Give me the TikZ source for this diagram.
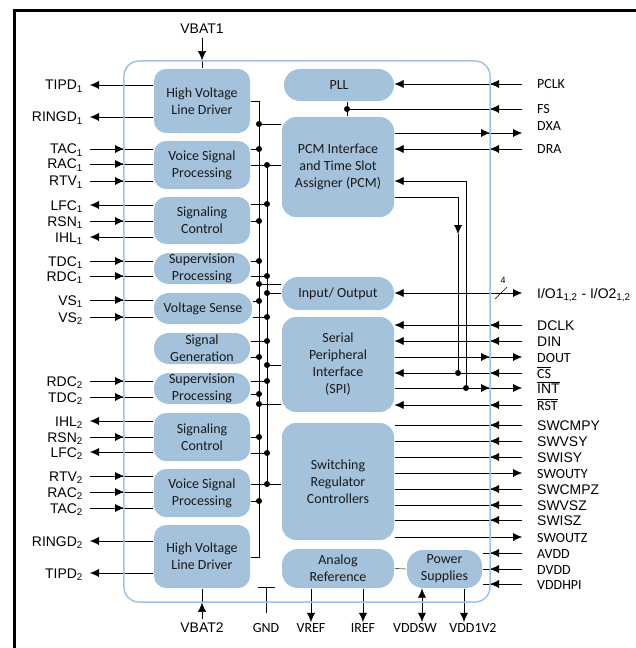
\documentclass[tikz,border=0pt]{standalone}
\usepackage{fontspec}
\setmainfont{Carlito}
\newfontfamily\arial{Liberation Sans}
\usetikzlibrary{arrows.meta,backgrounds,decorations.markings}

\definecolor{blkfill}{RGB}{164,194,220}
\definecolor{chipcol}{RGB}{157,195,230}
\newcommand{\lsub}[1]{\textsubscript{#1}}

\tikzset{
  blk/.style={rectangle, fill=blkfill, rounded corners=12bp, align=center, inner sep=0pt,
              minimum width=96bp, text=black!90, font=\fontsize{14}{17}\selectfont},
  rblk/.style={blk, minimum width=112bp, rounded corners=14bp},
  cal/.style={font=\fontsize{14}{16}\selectfont},
  ari/.style={font=\arial\fontsize{14}{16}\selectfont},
  llab/.style={ari, anchor=base east, inner sep=1bp, xshift=-6bp, yshift=-5bp},
  rlab/.style={anchor=base west, inner sep=1bp, xshift=14bp, yshift=-5bp},
  blab/.style={cal, inner sep=1bp},
  dot/.style={circle, fill, inner sep=0pt, minimum size=6bp},
  midin/.style={decoration={markings, mark=at position #1 with {\arrow{>}}}, postaction={decorate}},
  midrev/.style={decoration={markings, mark=at position #1 with {\arrowreversed{>}}}, postaction={decorate}},
  pinin/.style={midin=34bp},
  pinout/.style={<-},
  rin/.style={->, midin=32bp},
  rinx/.style={midin=32bp},
  rout/.style={<-, midrev=32bp},
  routx/.style={<-}
}

\begin{document}
\begin{tikzpicture}[x=1bp, y=-1bp, >={Latex[length=9bp,width=8bp]}, line width=1.2bp]
  \useasboundingbox (0,0) rectangle (636,648);
  \draw[line width=3bp] (14.5,648) -- (14.5,10.5) -- (636,10.5);

  % the device
  \node[draw=chipcol, line width=1.5bp, rounded corners=15bp, minimum width=366bp,
        minimum height=541bp, inner sep=0pt] (chip) at (307,331.5) {};

  % channel 1 / channel 2 blocks
  \node[blk, minimum height=64bp] (hv1) at (202,101) {High Voltage\\Line Driver};
  \node[blk, minimum height=48bp] (vsp1) at (202,165) {Voice Signal\\Processing};
  \node[blk, minimum height=47bp] (sc1) at (202,220.5) {Signaling\\Control};
  \node[blk, minimum height=31bp, rounded corners=15bp] (sp1) at (202,268.5) {Supervision\\Processing};
  \node[blk, minimum height=31bp, minimum width=98bp, rounded corners=15bp] (vs) at (203,308.5) {Voltage Sense};
  \node[blk, minimum height=31bp, rounded corners=15bp] (sg) at (202,348.5) {Signal\\Generation};
  \node[blk, minimum height=31bp, rounded corners=15bp] (sp2) at (202,388.5) {Supervision\\Processing};
  \node[blk, minimum height=48bp] (sc2) at (202,437) {Signaling\\Control};
  \node[blk, minimum height=48bp] (vsp2) at (202,493) {Voice Signal\\Processing};
  \node[blk, minimum height=63bp] (hv2) at (202,556.5) {High Voltage\\Line Driver};

  % shared blocks
  \node[rblk, minimum width=110bp, minimum height=32bp, rounded corners=16bp] (pll) at (339,85) {PLL};
  \node[rblk, minimum height=100bp] (pcm) at (338,167) {PCM Interface\\and Time Slot\\Assigner (PCM)};
  \node[rblk, minimum height=33bp, rounded corners=16bp] (io) at (338,293.5) {Input/ Output};
  \node[rblk, minimum height=95bp] (spi) at (338,364.5) {Serial\\Peripheral\\Interface\\(SPI)};
  \node[rblk, minimum height=117bp] (sw) at (338,481.5) {Switching\\Regulator\\Controllers};
  \node[rblk, minimum height=39bp, rounded corners=16bp] (ar) at (338,568.5) {Analog\\Reference};
  \node[blk, minimum width=75bp, minimum height=38bp, rounded corners=16bp] (ps) at (444.5,569) {Power\\Supplies};

  % outside labels
  \node[ari] (vbat1) at (202,29) {VBAT1};
  \node[ari] (vbat2) at (202,628) {VBAT2};
  \node[blab] (gnd) at (266,628) {GND};
  \node[blab] (vref) at (311,628) {VREF};
  \node[blab] (iref) at (363,628) {IREF};
  \node[blab] (vddsw) at (415,628) {VDDSW};
  \node[blab] (vdd1v2) at (473,628) {VDD1V2};

  \begin{pgfonlayer}{background}
    % supply pins
    \draw[->] (vbat1) -- (vbat1 |- chip.north);
    \draw (vbat1 |- chip.north) -- (hv1.north);
    \draw[->] (vbat2) -- (vbat2 |- chip.south);
    \draw (vbat2 |- chip.south) -- (hv2.south);
    \draw (258,587) -- (275,587) (266.5,587) -- (266.5,613);

    % line side pins
    \foreach \y/\lab/\s/\b in {85/TIPD\lsub{1}/pinout/hv1, 117/RINGD\lsub{1}/pinout/hv1,
        149/TAC\lsub{1}/pinin/vsp1, 164/RAC\lsub{1}/pinin/vsp1, 181/RTV\lsub{1}/pinin/vsp1,
        205/LFC\lsub{1}/pinout/sc1, 221/RSN\lsub{1}/pinin/sc1, 237/IHL\lsub{1}/pinout/sc1,
        261/TDC\lsub{1}/pinin/sp1, 276/RDC\lsub{1}/pinin/sp1,
        300/VS\lsub{1}/pinin/vs, 317/VS\lsub{2}/pinin/vs,
        381/RDC\lsub{2}/pinin/sp2, 397/TDC\lsub{2}/pinin/sp2,
        421/IHL\lsub{2}/pinout/sc2, 437/RSN\lsub{2}/pinin/sc2, 452/LFC\lsub{2}/pinout/sc2,
        476/RTV\lsub{2}/pinin/vsp2, 492/RAC\lsub{2}/pinin/vsp2, 508/TAC\lsub{2}/pinin/vsp2,
        541/RINGD\lsub{2}/pinout/hv2, 573/TIPD\lsub{2}/pinout/hv2}
    {
      \coordinate (l\y) at (90,\y);
      \node[llab] at (l\y) {\lab};
      \draw[\s] (l\y) -- (l\y -| \b.west);
    }

    % internal bus
    \draw (hv1.east) -| (259,557) -- (hv2.east |- 0,557);
    \draw (267,165) -- (267,484);
    \foreach \b/\y in {vsp1/149, sc1/221, sp1/261, vs/301, sg/357, sp2/394, sc2/437, vsp2/501}
      \draw (\b.east |- 0,\y) -- (259,\y) node[dot] {};
    \foreach \b/\y in {sc1/204, sp1/276, vs/317, sg/341, sp2/381, sc2/453}
      \draw (\b.east |- 0,\y) -- (267,\y) node[dot] {};
    \foreach \b/\y in {pcm/124, io/284, spi/404}
      \draw (259,\y) node[dot] {} -- (\b.west |- 0,\y);
    \foreach \b/\y in {io/293, spi/365}
      \draw (267,\y) node[dot] {} -- (\b.west |- 0,\y);
    \draw (vsp1.east |- 0,165) -- (pcm.west |- 0,165);
    \node[dot] at (267,165) {};
    \draw (vsp2.east |- 0,484) -- (sw.west |- 0,484);
    \node[dot] at (267,484) {};

    % host side pins
    \foreach \y/\lab/\f/\s/\b in {84/PCLK/cal/rin/pll, 149/DRA/cal/rin/pcm,
        325/DCLK/ari/rin/spi, 341/DIN/ari/rin/spi, 357/DOUT/cal/rout/spi,
        373/{$\overline{\mbox{CS}}$}/cal/rin/spi, 388/{$\overline{\mbox{INT}}$}/ari/rout/spi,
        405/{$\overline{\mbox{RST}}$}/cal/rin/spi,
        425/SWCMPY/ari/rinx/sw, 441/SWVSY/ari/rinx/sw, 457/SWISY/ari/rinx/sw,
        473/SWOUTY/cal/routx/sw, 489/SWCMPZ/ari/rinx/sw, 505/SWVSZ/ari/rinx/sw,
        520/SWISZ/ari/rinx/sw, 537/SWOUTZ/cal/routx/sw,
        553/AVDD/cal/rinx/ps, 569/DVDD/cal/rinx/ps, 584/VDDHPI/cal/rinx/ps}
    {
      \coordinate (r\y) at (522,\y);
      \node[rlab,\f] at (r\y) {\lab};
      \draw[\s] (r\y) -- (r\y -| \b.east);
    }
    \coordinate (rfs) at (522,109);
    \node[rlab,cal] at (rfs) {FS};
    \draw[rinx] (rfs) -- (347,109) node[dot] {};
    \draw (pll.south -| 347,0) -- (pcm.north -| 347,0);
    \coordinate (rdxa) at (522,133);
    \node[rlab,cal] at (522,126) {DXA};
    \draw[rout] (rdxa) -- (rdxa -| pcm.east);
    \coordinate (rio) at (522,293);
    \node[rlab,ari] at (rio) {I/O1\lsub{1,2} - I/O2\lsub{1,2}};
    \draw[<->] (io.east |- rio) -- (rio);
    \draw (495,299) -- (507,287);
    \node[font=\arial\fontsize{9}{9}\selectfont] at (503,280) {4};

    % PCM to SPI strobes
    \coordinate (cstap) at (458,373);
    \coordinate (inttap) at (466,388);
    \draw[->] (pcm.east |- 0,197) -| (458,234);
    \draw (458,234) -- (cstap) node[dot] {};
    \draw[->] (inttap) |- (pcm.east |- 0,181);
    \node[dot] at (inttap) {};

    % reference and power
    \draw (ar.east) -- (ps.west);
    \draw[->] (vref |- ar.south) -- (vref.north);
    \draw[->] (iref |- ar.south) -- (iref.north);
    \draw[<->] (ps.south -| 422,0) -- (422,0 |- vddsw.north);
    \draw[->] (ps.south -| 464,0) -- (464,0 |- vdd1v2.north);
  \end{pgfonlayer}
\end{tikzpicture}
\end{document}
